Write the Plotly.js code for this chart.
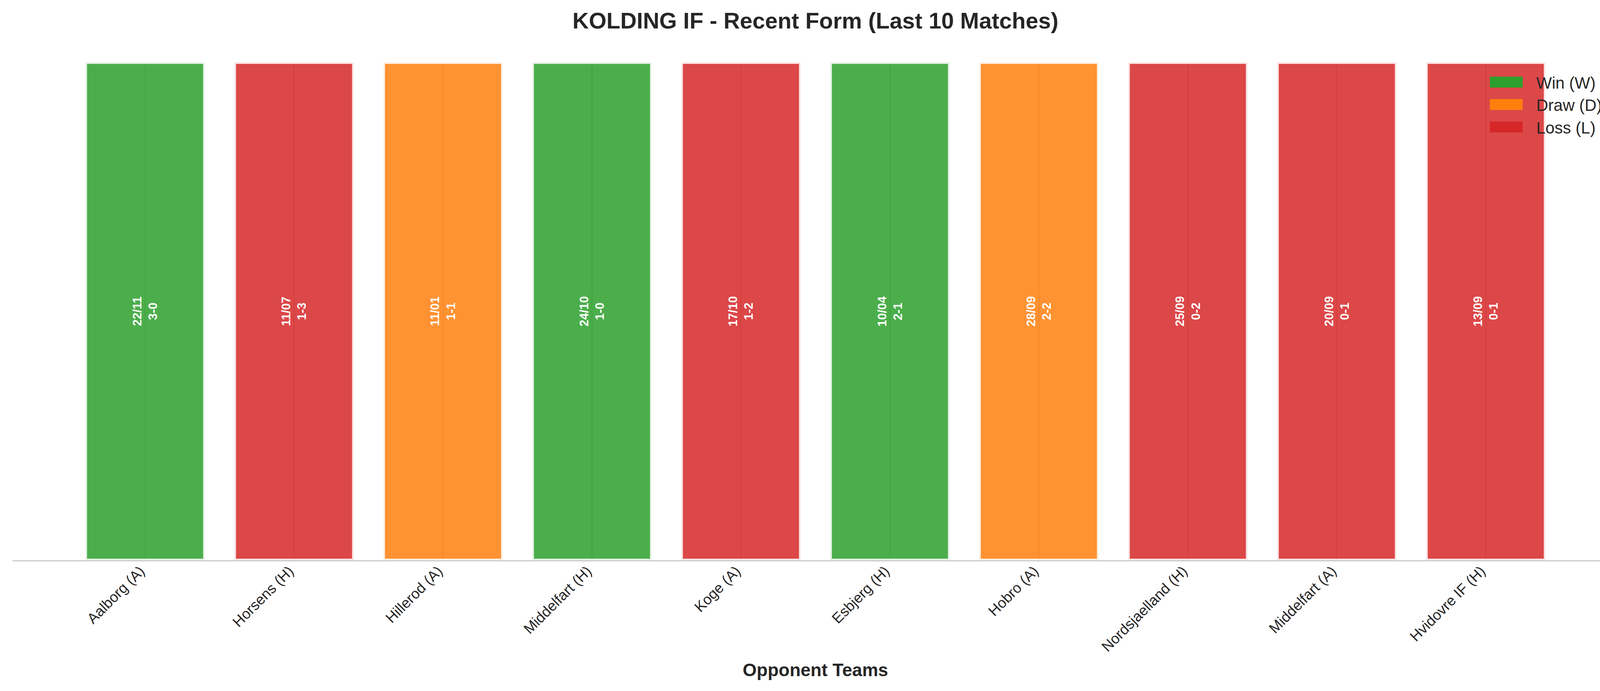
<!DOCTYPE html>
<html>
<head>
<meta charset="utf-8">
<script src="https://cdn.plot.ly/plotly-3.0.1.min.js"></script>
<style>
  html, body { margin: 0; padding: 0; background: #ffffff; overflow: hidden; }
  #chart { width: 4170px; height: 1770px; }
</style>
</head>
<body>
<div id="chart"></div>
<script>
// ---- data ----
const teams   = ['Aalborg (A)', 'Horsens (H)', 'Hillerod (A)', 'Middelfart (H)', 'Koge (A)',
                 'Esbjerg (H)', 'Hobro (A)', 'Nordsjaelland (H)', 'Middelfart (A)', 'Hvidovre IF (H)'];
const dates   = ['22/11', '11/07', '11/01', '24/10', '17/10', '10/04', '28/09', '25/09', '20/09', '13/09'];
const scores  = ['3-0', '1-3', '1-1', '1-0', '1-2', '2-1', '2-2', '0-2', '0-1', '0-1'];
const results = ['W', 'L', 'D', 'W', 'L', 'W', 'D', 'L', 'L', 'L'];
const values  = [1, 1, 1, 1, 1, 1, 1, 1, 1, 1];

const resultOrder  = ['W', 'D', 'L'];
const resultNames  = {W: 'Win (W)', D: 'Draw (D)', L: 'Loss (L)'};
const resultColors = {W: '#2ca02c', D: '#ff7f0e', L: '#d62728'};
const resultFills  = {W: 'rgba(44,160,44,0.85)', D: 'rgba(255,127,14,0.85)', L: 'rgba(214,39,40,0.85)'};

const FONT = '"Liberation Sans", Arial, Helvetica, sans-serif';
const TXT = '#262626';

const traces = resultOrder.map(function (r) {
  const xs = [], ys = [], tx = [];
  teams.forEach(function (t, i) {
    if (results[i] === r) {
      xs.push(t);
      ys.push(values[i]);
      tx.push('<b>' + dates[i] + '<br>' + scores[i] + '</b>');
    }
  });
  return {
    type: 'bar',
    name: resultNames[r],
    x: xs,
    y: ys,
    width: 0.8,
    text: tx,
    textposition: 'inside',
    insidetextanchor: 'middle',
    textangle: -90,
    constraintext: 'none',
    textfont: {family: FONT, size: 31, color: '#ffffff'},
    marker: {color: resultFills[r], line: {color: 'rgba(255,255,255,0.85)', width: 8}},
    hoverinfo: 'skip'
  };
});

// faint centre lines seen through the translucent bars
const shapes = teams.map(function (t, i) {
  return {
    type: 'line', layer: 'below', xref: 'x', yref: 'y',
    x0: i, x1: i, y0: 0, y1: values[i],
    line: {color: '#cccccc', width: 3}
  };
});

const layout = {
  width: 4170,
  height: 1770,
  paper_bgcolor: '#ffffff',
  plot_bgcolor: '#ffffff',
  margin: {l: 32, r: 27, t: 96, b: 335, pad: 0},
  barmode: 'overlay',
  showlegend: true,
  font: {family: FONT, color: TXT},
  title: {
    text: '<b>KOLDING IF - Recent Form (Last 10 Matches)</b>',
    font: {family: FONT, size: 58, color: TXT},
    x: 0.5, xanchor: 'center',
    xref: 'paper',
    y: 1 - 53 / 1770, yanchor: 'middle', yref: 'container'
  },
  xaxis: {
    type: 'category',
    categoryorder: 'array',
    categoryarray: teams,
    range: [-0.89, 9.89],
    showgrid: false,
    zeroline: false,
    showline: true,
    linecolor: '#cccccc',
    linewidth: 3,
    ticks: '',
    tickangle: -45,
    ticklen: 0,
    ticklabelshift: -12,
    ticklabelstandoff: -12,
    tickfont: {family: FONT, size: 37.5, color: TXT},
    automargin: false,
    title: {
      text: '<b>Opponent Teams</b>',
      font: {family: FONT, size: 46, color: TXT},
      standoff: 24
    }
  },
  yaxis: {
    range: [0, 1.05],
    visible: false,
    showgrid: false,
    zeroline: false,
    fixedrange: true
  },
  legend: {
    x: 0.991, xanchor: 'right',
    y: 0.94, yanchor: 'top',
    bgcolor: 'rgba(0,0,0,0)',
    borderwidth: 0,
    font: {family: FONT, size: 42, color: TXT},
    itemwidth: 130,
    traceorder: 'normal'
  },
  shapes: shapes
};

function patchLegend() {
  const leg = document.querySelector('#chart g.legend');
  if (!leg) return;
  // avoid clipping of the last characters of the legend labels
  leg.querySelectorAll('[clip-path]').forEach(function (el) { el.removeAttribute('clip-path'); });
  leg.querySelectorAll('g.traces').forEach(function (g, i) {
    const r = resultOrder[i];
    g.querySelectorAll('g.legendpoints path').forEach(function (p) {
      p.setAttribute('d', 'M35,14H-49V-14H35Z');
      p.style.fill = resultColors[r];
      p.style.fillOpacity = '1';
      p.style.opacity = '1';
      p.style.stroke = 'none';
      p.style.strokeWidth = '0px';
    });
  });
}

const gdiv = document.getElementById('chart');
Plotly.newPlot(gdiv, traces, layout, {displayModeBar: false, staticPlot: true}).then(function (gd) {
  patchLegend();
  gd.on && gd.on('plotly_afterplot', patchLegend);
  setTimeout(patchLegend, 50);
  setTimeout(patchLegend, 300);
});
</script>
</body>
</html>
